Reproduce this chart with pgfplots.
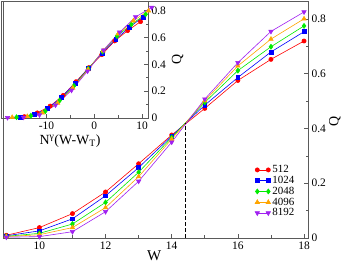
\documentclass[border=0pt]{standalone}
\usepackage{pgfplots}
\pgfplotsset{compat=1.18}
\usepackage{pgfplotstable}
\usepackage{fontspec}
\setmainfont{Liberation Serif}
\definecolor{cRed}{RGB}{255,0,0}
\definecolor{cBlue}{RGB}{0,0,255}
\definecolor{cGreen}{RGB}{0,235,0}
\definecolor{cOrange}{RGB}{255,165,0}
\definecolor{cPurple}{RGB}{160,32,240}
\definecolor{frame}{RGB}{90,90,90}

\pgfplotstableread{
W q1 q2 q3 q4 q5 x1 x2 x3 x4 x5
9 0.010 0.008 0.006 0.005 0.003 -14.63 -15.45 -16.26 -17.18 -18.16
10 0.038 0.026 0.017 0.012 0.005 -11.93 -12.60 -13.26 -14.01 -14.81
11 0.089 0.070 0.051 0.038 0.023 -9.23 -9.75 -10.26 -10.84 -11.46
12 0.168 0.154 0.130 0.111 0.096 -6.53 -6.90 -7.26 -7.67 -8.11
13 0.271 0.257 0.240 0.224 0.207 -3.83 -4.05 -4.26 -4.50 -4.76
14 0.376 0.372 0.367 0.361 0.350 -1.13 -1.20 -1.26 -1.33 -1.41
15 0.473 0.485 0.495 0.501 0.507 1.57 1.65 1.74 1.84 1.94
16 0.575 0.586 0.611 0.628 0.640 4.27 4.50 4.74 5.01 5.29
17 0.652 0.679 0.698 0.726 0.754 6.97 7.35 7.74 8.18 8.64
18 0.719 0.753 0.774 0.800 0.825 9.67 10.20 10.74 11.35 11.99
}\data

\pgfplotsset{
  sA/.style={cRed, line width=0.6bp, mark=*, mark size=2.1bp, mark options={solid}},
  sB/.style={cBlue, line width=0.6bp, mark=square*, mark size=1.9bp, mark options={solid}},
  sC/.style={cGreen, line width=0.6bp, mark=diamond*, mark size=2.5bp, mark options={solid}},
  sD/.style={cOrange, line width=0.6bp, mark=triangle*, mark size=2.5bp, mark options={solid}},
  sE/.style={cPurple, line width=0.6bp, mark=triangle*, mark size=2.5bp, mark options={solid,rotate=180}},
  common/.style={
    scale only axis,
    axis line style={frame, line width=0.8bp},
    tick style={frame, line width=0.6bp},
    tick align=inside,
    major tick length=4bp,
    minor tick length=2.5bp,
    /pgf/number format/assume math mode=true,
    ticklabel style={font=\fontsize{11.5}{11.5}\selectfont},
    xtick pos=bottom,
    ytick pos=right,
    yticklabel pos=right,
    minor y tick num=1,
    minor x tick num=1,
    ymin=0,
  },
}

\begin{document}
\begin{tikzpicture}[x=1bp,y=1bp]
\useasboundingbox (0,0) rectangle (341,264);
\begin{axis}[common,
  at={(3bp,26bp)}, anchor=south west,
  width=305bp, height=237bp,
  xmin=8.9, xmax=18.12, ymax=0.865,
  xtick={10,12,14,16,18},
  ytick={0,0.2,0.4,0.6,0.8},
  yticklabels={0,0.2,0.4,0.6,0.8},
  xlabel={W},
  xlabel style={font=\fontsize{15}{15}\selectfont, at={(axis description cs:0.496,-0.073)}, anchor=center},
  ylabel={Q},
  ylabel style={font=\fontsize{14}{14}\selectfont, at={(axis description cs:1.088,0.49)}, anchor=center},
  legend style={at={(axis description cs:0.826,0.315)}, anchor=north west, draw=none, fill=none,
    font=\fontsize{11}{11}\selectfont, row sep=-2pt, inner sep=0pt},
  legend cell align=left,
  legend image code/.code={\draw[#1] plot coordinates {(0bp,0bp) (11bp,0bp)};},
]
\addplot[sA] table[x=W,y=q1]{\data};
\addplot[sB] table[x=W,y=q2]{\data};
\addplot[sC] table[x=W,y=q3]{\data};
\addplot[sD] table[x=W,y=q4]{\data};
\addplot[sE] table[x=W,y=q5]{\data};
\legend{512,1024,2048,4096,8192}
\addplot[black, line width=0.7bp, dash pattern=on 3.5bp off 2.5bp, forget plot] coordinates {(14.42,0) (14.42,0.418)};
\end{axis}
\begin{axis}[common,
  at={(1.7bp,146bp)}, anchor=south west,
  width=146.3bp, height=117bp,
  xmin=-19.37, xmax=11.23, ymax=0.873,
  clip=false,
  xtick={-10,0,10},
  ytick={0,0.2,0.4,0.6,0.8},
  yticklabels={0,0.2,0.4,0.6,0.8},
  xlabel={N\textsuperscript{γ}(W-W\textsubscript{T})},
  xlabel style={font=\fontsize{14}{14}\selectfont, at={(axis description cs:0.467,-0.197)}, anchor=center},
  ylabel={Q},
  ylabel style={font=\fontsize{14}{14}\selectfont, at={(axis description cs:1.202,0.5)}, anchor=center},
]
\addplot[sA] table[x=x1,y=q1]{\data};
\addplot[sB] table[x=x2,y=q2]{\data};
\addplot[sC] table[x=x3,y=q3]{\data};
\addplot[sD] table[x=x4,y=q4]{\data};
\addplot[sE] table[x=x5,y=q5]{\data};
\end{axis}
\end{tikzpicture}
\end{document}
